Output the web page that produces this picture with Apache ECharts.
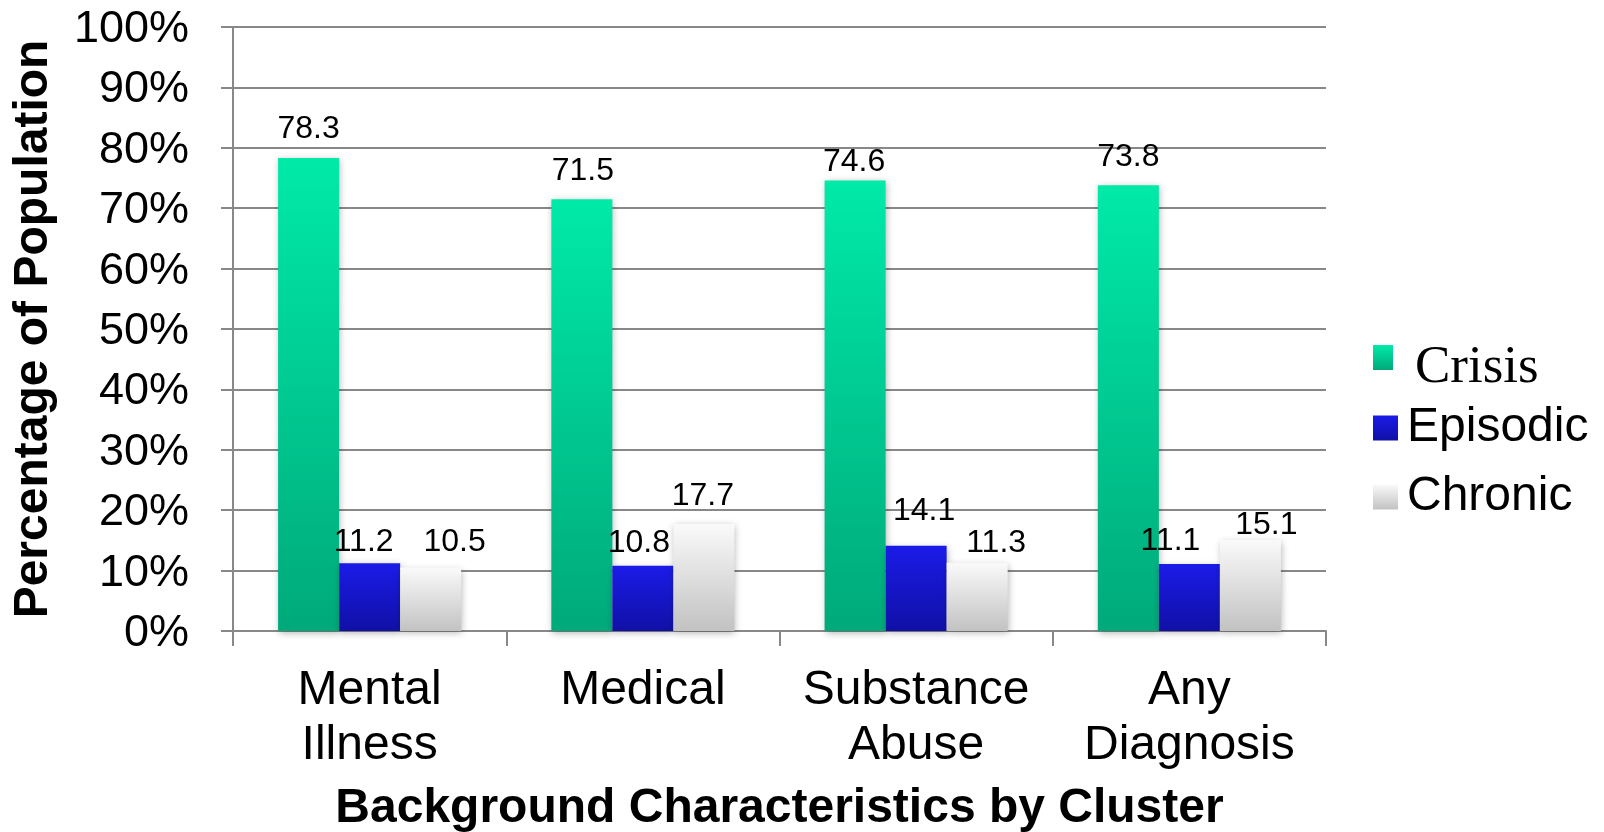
<!DOCTYPE html>
<html>
<head>
<meta charset="utf-8">
<script src="https://cdn.jsdelivr.net/npm/echarts@6/dist/echarts.min.js"></script>
<style>
html,body{margin:0;padding:0;background:#fff;}
#chart{width:1604px;height:832px;}
</style>
</head>
<body>
<div id="chart"></div>
<script>
var categories = ['Mental\nIllness', 'Medical', 'Substance\nAbuse', 'Any\nDiagnosis'];
var seriesNames = ['Crisis', 'Episodic', 'Chronic'];
var crisis = [78.3, 71.5, 74.6, 73.8];
var episodic = [11.2, 10.8, 14.1, 11.1];
var chronic = [10.5, 17.7, 11.3, 15.1];
var yTicks = [0, 10, 20, 30, 40, 50, 60, 70, 80, 90, 100];

// label nudges (style only, in px) mimicking the reference's label placement
var labelNudge = {
  Crisis:   [[0, -5], [1, -4], [-1, 6], [0, -4]],
  Episodic: [[-6, 3], [-4, 1], [8, -11], [-19, 1]],
  Chronic:  [[24, -1], [-1, -4], [19, 4], [16, 9]]
};

var FONT = "'Liberation Sans', Arial, sans-serif";
var SERIF = "'Liberation Serif', 'Times New Roman', serif";
function grad(top, bottom) {
  return new echarts.graphic.LinearGradient(0, 0, 0, 1, [
    {offset: 0, color: top}, {offset: 1, color: bottom}
  ]);
}
var colors = {
  Crisis: grad('#00EAA8', '#00A97A'),
  Episodic: grad('#1B1BE8', '#1010A6'),
  Chronic: grad('#FAFAFA', '#C2C2C2')
};
var values = {Crisis: crisis, Episodic: episodic, Chronic: chronic};

function makeSeries(name) {
  return {
    name: name,
    type: 'bar',
    barGap: '0%',
    barCategoryGap: '33%',
    itemStyle: {
      color: colors[name],
      shadowColor: 'rgba(0,0,0,0.3)',
      shadowBlur: 7,
      shadowOffsetX: 1,
      shadowOffsetY: 2
    },
    label: {
      show: true, position: 'top', distance: 8,
      fontFamily: FONT, fontSize: 32, lineHeight: 32, color: '#000'
    },
    data: values[name].map(function (v, i) {
      return {value: v, label: {offset: labelNudge[name][i]}};
    })
  };
}

var chart = echarts.init(document.getElementById('chart'));
chart.setOption({
  animation: false,
  backgroundColor: '#fff',
  grid: {left: 233, right: 278, top: 27, bottom: 201, outerBoundsMode: 'none', containLabel: false},
  legend: [
    { // Crisis swatch
      data: ['Crisis'], orient: 'vertical', left: 1368, top: 340,
      itemWidth: 20, itemHeight: 25, icon: 'rect',
      formatter: function () { return ''; },
      textStyle: {fontSize: 10, lineHeight: 10}
    },
    { // Crisis text (serif, sits lower than its swatch as in the reference)
      data: ['Crisis'], orient: 'vertical', left: 1404, top: 337,
      itemWidth: 1, itemHeight: 25, icon: 'none',
      textStyle: {fontFamily: SERIF, fontSize: 53, lineHeight: 53, color: '#000'}
    },
    {
      data: ['Episodic'], orient: 'vertical', left: 1368, top: 399,
      itemWidth: 25, itemHeight: 25, icon: 'rect',
      textStyle: {fontFamily: FONT, fontSize: 48, lineHeight: 25, color: '#000', padding: [0, 0, 0, 4]}
    },
    {
      data: ['Chronic'], orient: 'vertical', left: 1368, top: 468,
      itemWidth: 25, itemHeight: 25, icon: 'rect',
      textStyle: {fontFamily: FONT, fontSize: 48, lineHeight: 25, color: '#000', padding: [0, 0, 0, 4]}
    }
  ],
  xAxis: {
    type: 'category',
    data: categories,
    name: 'Background Characteristics by Cluster',
    nameLocation: 'middle',
    nameGap: 154,
    nameTextStyle: {fontFamily: FONT, fontSize: 48, fontWeight: 'bold', color: '#000', lineHeight: 48},
    axisLine: {lineStyle: {color: '#888', width: 2}},
    axisTick: {show: true, interval: 0, length: 15, lineStyle: {color: '#888', width: 2}},
    axisLabel: {fontFamily: FONT, fontSize: 48, lineHeight: 55, color: '#000', margin: 32, interval: 0}
  },
  yAxis: {
    type: 'value',
    min: yTicks[0], max: yTicks[yTicks.length - 1], interval: yTicks[1] - yTicks[0],
    name: 'Percentage of Population',
    nameLocation: 'middle', nameRotate: 90, nameGap: 175,
    nameTextStyle: {fontFamily: FONT, fontSize: 48, fontWeight: 'bold', color: '#000', lineHeight: 48},
    axisLine: {show: true, lineStyle: {color: '#888', width: 2}},
    axisTick: {show: true, length: 12, lineStyle: {color: '#888', width: 2}},
    splitLine: {show: true, lineStyle: {color: '#888', width: 2}},
    axisLabel: {
      margin: 44,
      formatter: '{v|{value}%}',
      rich: {v: {fontFamily: FONT, fontSize: 45, color: '#000', padding: [5, 0, 0, 0]}}
    }
  },
  series: seriesNames.map(makeSeries)
});
</script>
</body>
</html>
